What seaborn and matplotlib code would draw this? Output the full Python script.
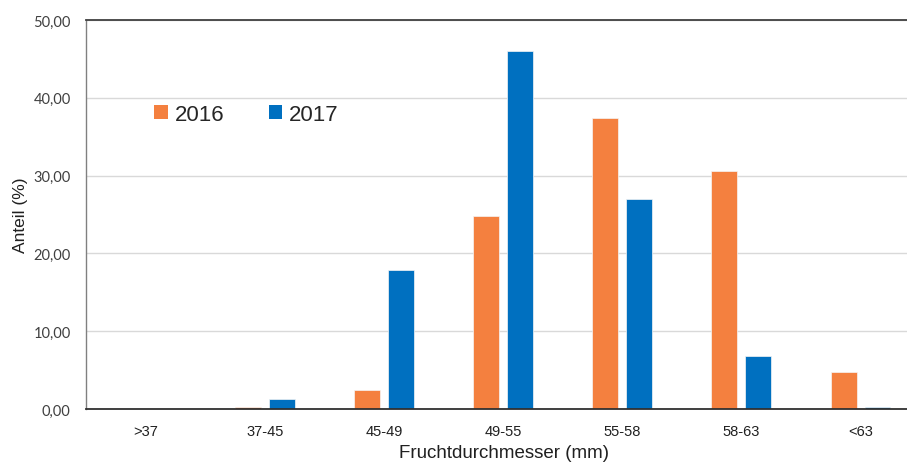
import matplotlib
matplotlib.use("Agg")
import matplotlib.pyplot as plt
import seaborn as sns
import pandas as pd
from matplotlib.ticker import FuncFormatter
from matplotlib.patches import Patch

categories = [">37", "37-45", "45-49", "49-55", "55-58", "58-63", "<63"]
values_2016 = [0.0, 0.2, 2.5, 24.8, 37.4, 30.6, 4.8]
values_2017 = [0.0, 1.3, 17.9, 46.0, 27.0, 6.8, 0.3]
years = ["2016", "2017"]
colors = ["#F4803F", "#0070C0"]

df = pd.DataFrame({
    "Klasse": categories * 2,
    "Anteil": values_2016 + values_2017,
    "Jahr": [years[0]] * len(categories) + [years[1]] * len(categories),
})

sns.set_style("white")
plt.rcParams["font.family"] = ["Liberation Sans", "DejaVu Sans"]

fig = plt.figure(figsize=(9.07, 4.64), dpi=100)
ax = fig.add_axes([86 / 907, 1 - 410 / 464, 821 / 907, (410 - 21) / 464])

sns.barplot(data=df, x="Klasse", y="Anteil", hue="Jahr", order=categories,
            hue_order=years, palette=colors, saturation=1, width=0.57, gap=0.235,
            edgecolor="#F5F5F5", linewidth=0.5, legend=False, ax=ax)

ax.set_xlim(-0.5, 6.39)
ax.set_ylim(0, 50)
ax.set_yticks(range(0, 51, 10))
ax.yaxis.set_major_formatter(FuncFormatter(lambda v, _: f"{v:.2f}".replace(".", ",")))
ax.grid(axis="y", color="#D9D9D9", linewidth=1)
ax.set_axisbelow(True)

for side in ["left", "bottom", "top"]:
    ax.spines[side].set_visible(True)
ax.spines["right"].set_visible(False)
ax.spines["left"].set_color("#808080")
ax.spines["left"].set_linewidth(1.0)
ax.spines["bottom"].set_color("#303030")
ax.spines["bottom"].set_linewidth(1.3)
ax.spines["top"].set_color("#404040")
ax.spines["top"].set_linewidth(1.3)

ax.tick_params(axis="both", length=0)
ax.tick_params(axis="y", pad=11, labelsize=10.5, labelcolor="#404040")
ax.tick_params(axis="x", pad=11, labelsize=10.5, labelcolor="#202020")
for lbl in ax.get_yticklabels():
    lbl.set_family(["Lato", "DejaVu Sans"])
for lbl in ax.get_xticklabels():
    lbl.set_family(["Liberation Sans Narrow", "Liberation Sans", "DejaVu Sans"])

ax.set_ylabel("Anteil (%)", fontsize=12.5, color="#202020")
ax.yaxis.set_label_coords(-0.071, 0.5)
ax.set_xlabel("Fruchtdurchmesser (mm)", fontsize=13.5, color="#202020")
ax.xaxis.set_label_coords(0.509, -0.089)

handles = [Patch(facecolor=c, edgecolor="none") for c in colors]
ax.legend(handles, years, loc="upper left", bbox_to_anchor=(0.059, 0.836), ncol=2,
          frameon=False, fontsize=16, handlelength=0.6, handleheight=0.6,
          handletextpad=0.3, columnspacing=2.0)

fig.savefig("out.png", dpi=100)
